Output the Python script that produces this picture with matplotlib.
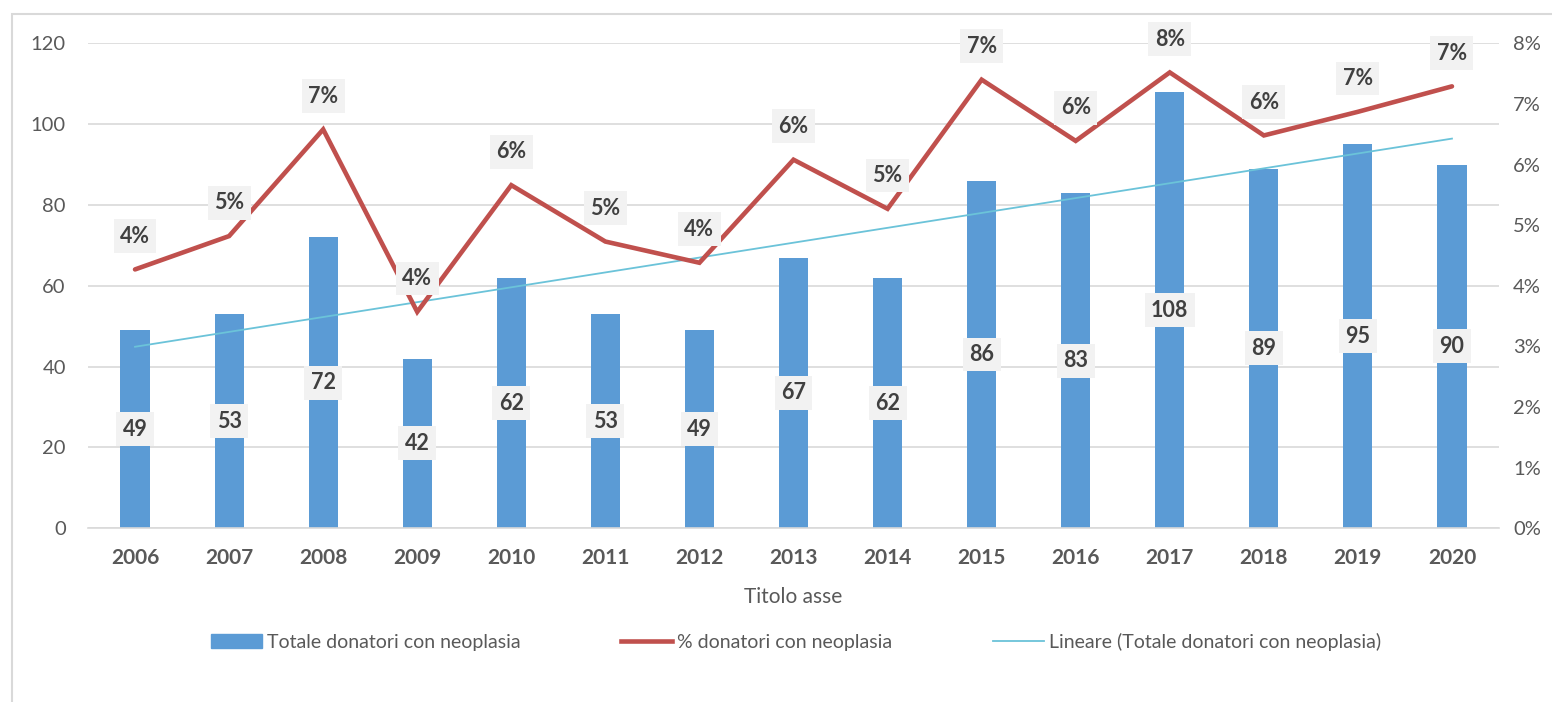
from matplotlib import pyplot as plt
from matplotlib.lines import Line2D
from matplotlib.patches import Patch, Rectangle
import numpy as np

plt.rcParams['font.family'] = ['Lato', 'DejaVu Sans']

years = ['2006', '2007', '2008', '2009', '2010', '2011', '2012', '2013',
         '2014', '2015', '2016', '2017', '2018', '2019', '2020']
totale = [49, 53, 72, 42, 62, 53, 49, 67, 62, 86, 83, 108, 89, 95, 90]
percent = [4.27, 4.82, 6.58, 3.57, 5.66, 4.73, 4.38, 6.08, 5.27, 7.40,
           6.39, 7.52, 6.48, 6.87, 7.29]

BLUE = '#5B9BD5'
RED = '#C0504D'
TREND = '#6BC3D9'
GRAY = '#595959'
LABEL = '#404040'
BOX = dict(boxstyle='square,pad=0.3', fc='#F2F2F2', ec='none')

fig = plt.figure(figsize=(15.52, 7.02), dpi=100)
# light frame of the chart area (runs off the right/bottom of the image)
fig.patches.append(Rectangle((12 / 1552, -0.1), 1.2, 0.1 + 1 - 14 / 702,
                             transform=fig.transFigure, fill=False,
                             ec='#D9D9D9', lw=1.5, zorder=0))

ax = fig.add_axes([88 / 1552, 1 - 528.3 / 702, (1499 - 88) / 1552, (528.3 - 43.3) / 702])
ax2 = ax.twinx()

x = np.arange(len(years))
ax.bar(x, totale, width=0.31, color=BLUE, zorder=2)

# linear trend of the bar series
k, q = np.polyfit(x, totale, 1)
ax.plot(x, k * x + q, color=TREND, lw=1.3, zorder=3)

for xi, v in zip(x, totale):
    ax.text(xi, v / 2, str(v), ha='center', va='center', fontsize=15.5,
            fontweight='bold', color=LABEL, bbox=BOX, zorder=5)

ax2.plot(x, percent, color=RED, lw=3.3, solid_capstyle='round',
         solid_joinstyle='miter', zorder=4)
for xi, p in zip(x, percent):
    ax2.annotate(f'{round(p)}%', (xi, p), xytext=(0, 24), textcoords='offset points',
                 ha='center', va='center', fontsize=15.5, fontweight='bold',
                 color=LABEL, bbox=BOX, zorder=6)

ax.set_xlim(-0.5, len(years) - 0.5)
ax.set_ylim(0, 120)
ax.set_yticks(range(0, 121, 20))
ax2.set_ylim(0, 8)
ax2.set_yticks(range(0, 9))
ax2.set_yticklabels([f'{t}%' for t in range(0, 9)])

ax.set_xticks(x)
ax.set_xticklabels(years, fontweight='bold')
ax.grid(axis='y', color='#D9D9D9', lw=1.2, zorder=0)
ax.set_axisbelow(True)

for a in (ax, ax2):
    for s in a.spines.values():
        s.set_visible(False)
ax.spines['bottom'].set_visible(True)
ax.spines['bottom'].set_color('#D9D9D9')
ax.spines['bottom'].set_linewidth(1.2)

ax.tick_params(axis='x', length=0, pad=14, labelsize=15, labelcolor=GRAY)
ax.tick_params(axis='y', length=0, pad=16, labelsize=14.5, labelcolor=GRAY)
ax2.tick_params(axis='y', length=0, pad=10, labelsize=14.5, labelcolor=GRAY)

ax.set_xlabel('Titolo asse', fontsize=15, color=GRAY, labelpad=14)

handles = [Patch(color=BLUE),
           Line2D([], [], color=RED, lw=3.3),
           Line2D([], [], color=TREND, lw=1.3)]
names = ['Totale donatori con neoplasia', '% donatori con neoplasia',
         'Lineare (Totale donatori con neoplasia)']
fig.legend(handles, names, loc='center', bbox_to_anchor=(796 / 1552, 1 - 642 / 702),
           ncol=3, frameon=False, fontsize=14, labelcolor=GRAY,
           handlelength=2.6, handleheight=0.75, handletextpad=0.25, columnspacing=5.2)

fig.savefig('out.png', dpi=100)
